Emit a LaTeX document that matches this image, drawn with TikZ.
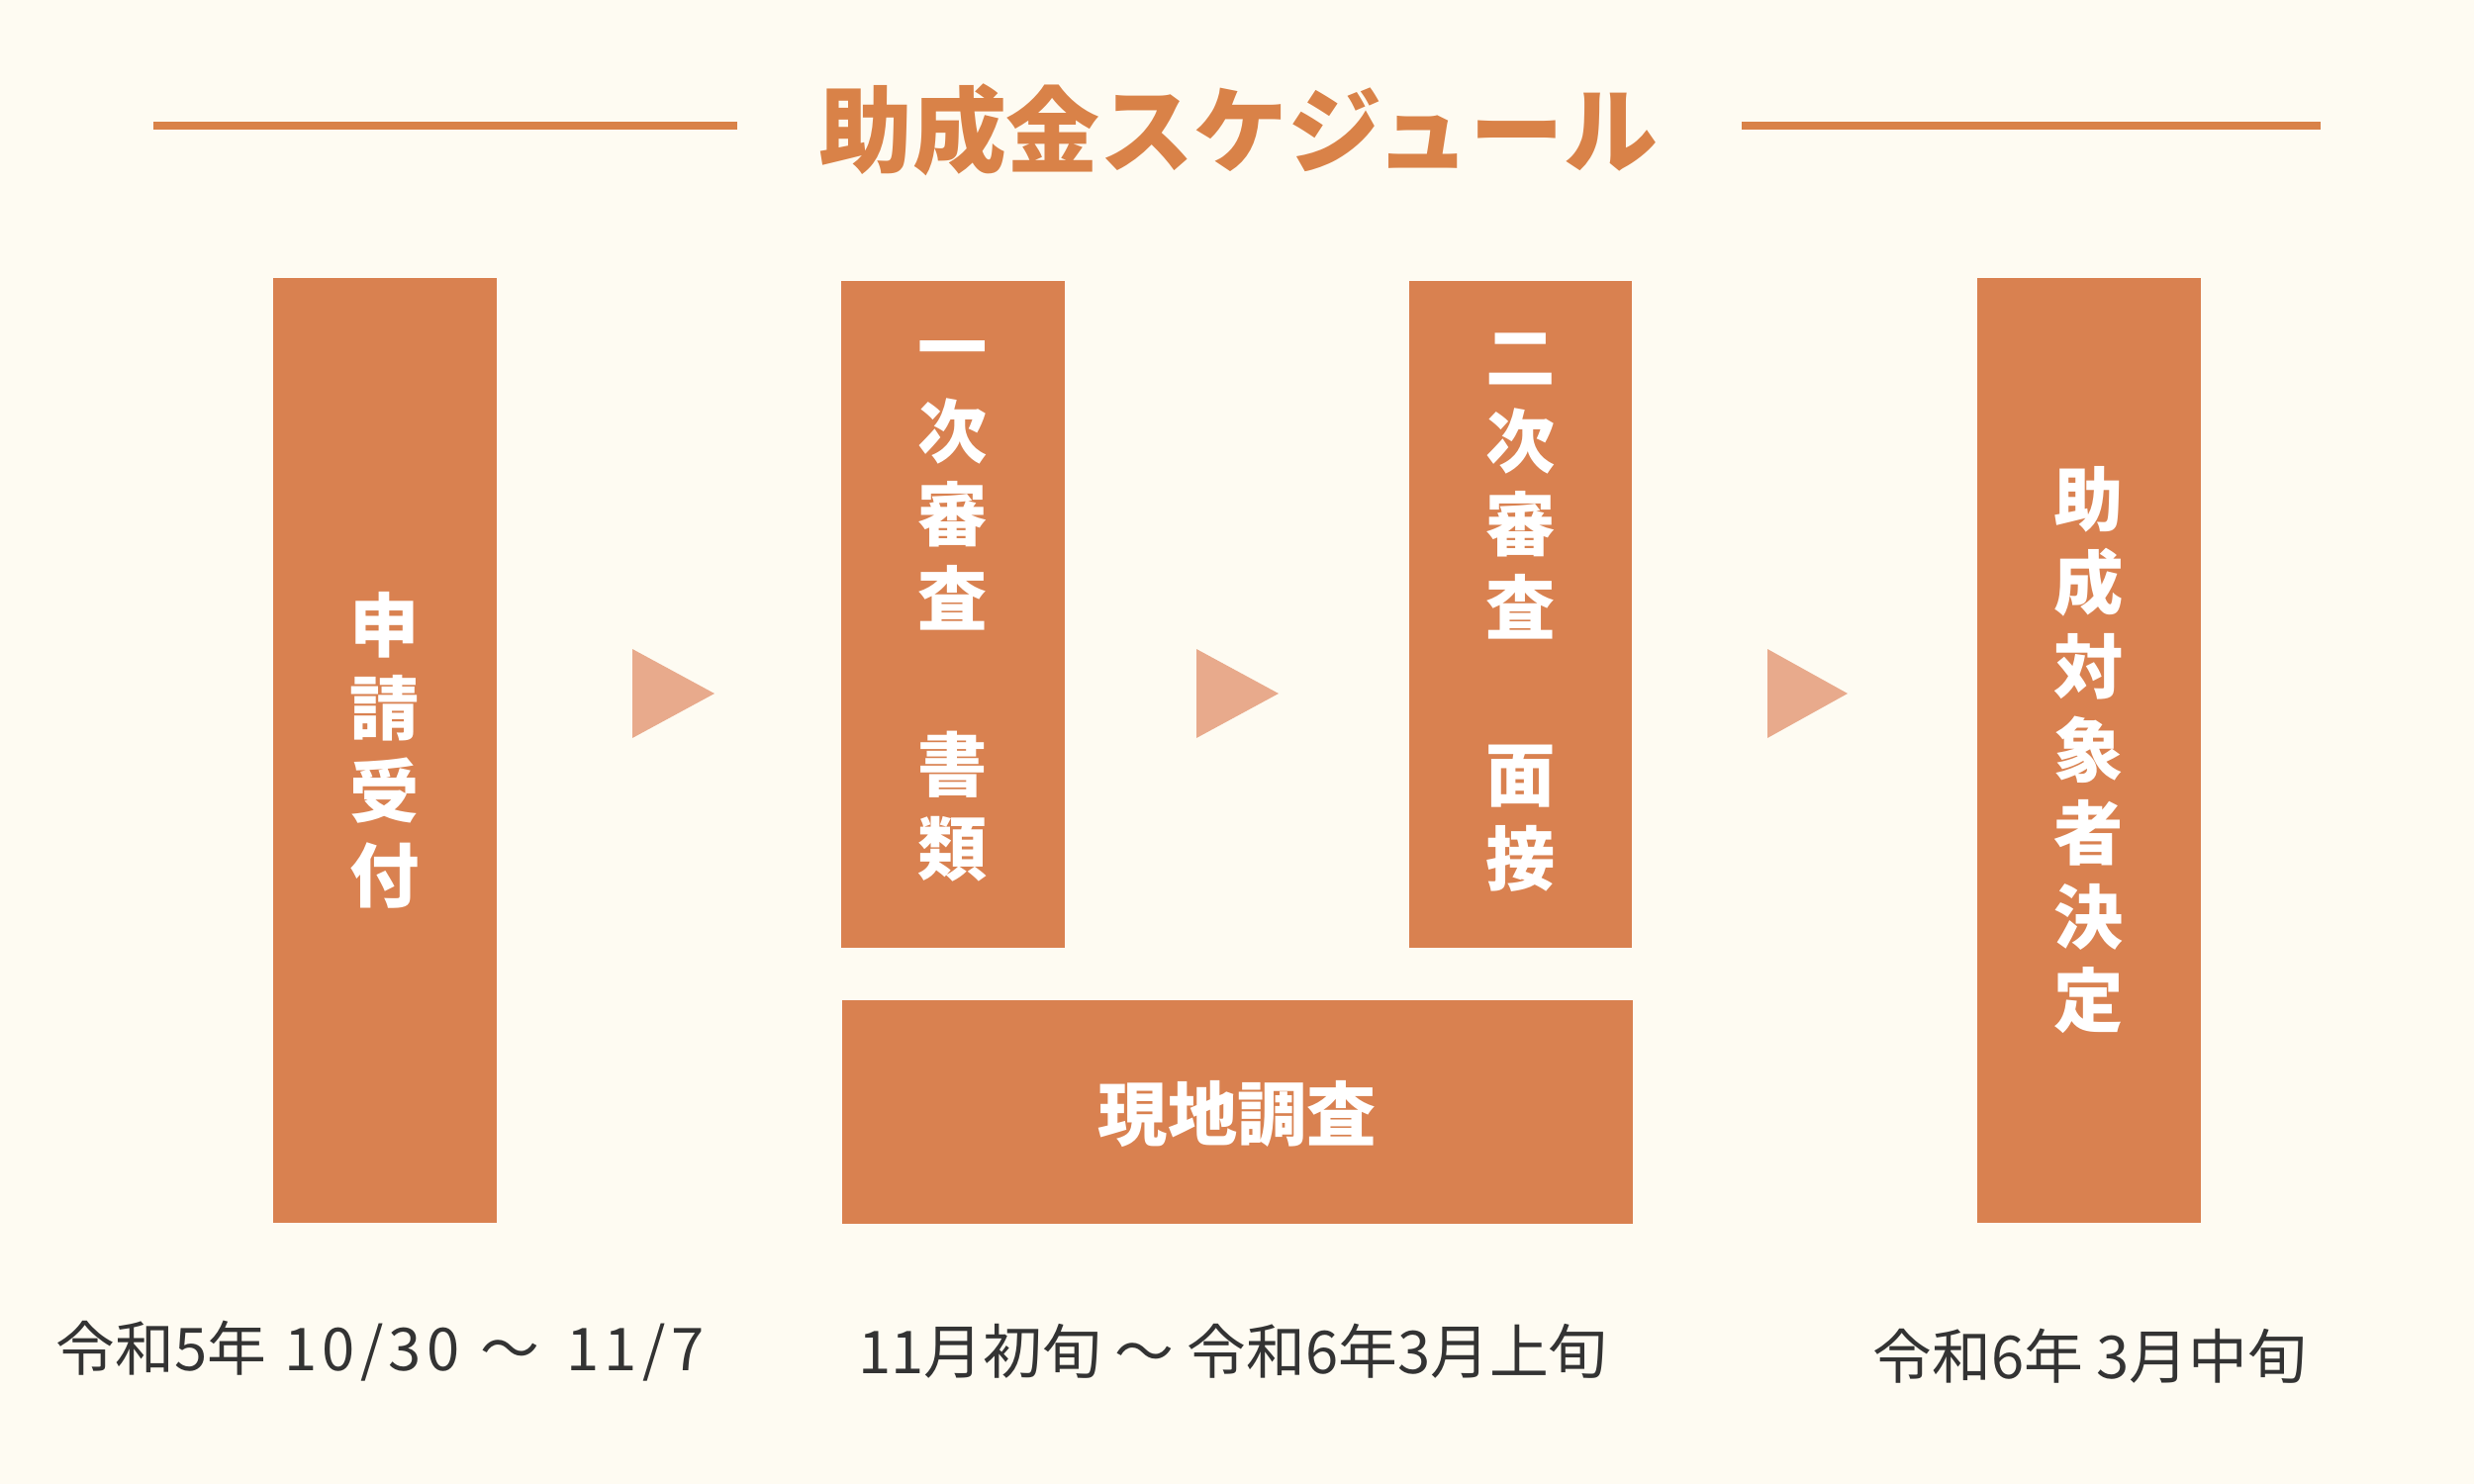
\documentclass[tikz,border=0pt]{standalone}
\usepackage{fontspec}
\setmainfont{Noto Sans CJK JP}
\newfontfamily\digf{Noto Sans CJK JP}[LetterSpace=9]
\definecolor{bgc}{RGB}{254,251,242}
\definecolor{boxc}{RGB}{217,129,80}
\definecolor{arrc}{RGB}{232,170,140}
\definecolor{titc}{RGB}{217,130,72}
\definecolor{txtc}{RGB}{51,51,51}
\tikzset{
  stepbox/.style={fill=boxc, draw=none, inner sep=0pt},
  vtext/.style={text=white, font=\fontsize{20}{24}\selectfont\bfseries, align=center, inner sep=0pt},
  htext/.style={text=white, font=\fontsize{20}{24}\selectfont\bfseries, inner sep=0pt},
  datetext/.style={text=txtc, font=\fontsize{17}{20}\selectfont, inner sep=0pt},
  tri/.style={fill=arrc, draw=none},
  rule/.style={draw=titc, line width=2.3pt}
}
\begin{document}
\begin{tikzpicture}[x=0.01cm, y=-0.01cm]
\fill[bgc] (0,0) rectangle (2500,1500);
\useasboundingbox (0,0) rectangle (2500,1500);
% title
\draw[rule] (155,127) -- (745,127);
\draw[rule] (1760,127) -- (2345,127);
\node[text=titc, font=\fontsize{27}{31}\selectfont\bfseries, inner sep=0pt] (title) at (1251,131) {助成金スケジュール};
% boxes
\node[stepbox, minimum width=2.26cm, minimum height=9.55cm] (b1) at (389,758.5) {};
\node[stepbox, minimum width=2.26cm, minimum height=6.74cm] (b2) at (963,621) {};
\node[stepbox, minimum width=2.25cm, minimum height=6.74cm] (b3) at (1536.5,621) {};
\node[stepbox, minimum width=2.26cm, minimum height=9.55cm] (b4) at (2111,758.5) {};
\node[stepbox, minimum width=7.99cm, minimum height=2.26cm] (b5) at (1250.5,1124) {};
% box texts
\node[vtext] (t1) at (389,758) {申\\請\\受\\付};
\node[vtext] (t2) at (963,618) {一\\次\\審\\査\\\mbox{}\\書\\類};
\node[vtext] (t3) at (1536.5,619) {二\\次\\審\\査\\\mbox{}\\面\\接};
\node[vtext] (t4) at (2111,758) {助\\成\\対\\象\\者\\決\\定};
\node[htext] (t5) at (1250.5,1126) {現地調査};
% arrows
\fill[tri] (639,656) -- (639,746) -- (722,701) -- cycle;
\fill[tri] (1209,656) -- (1209,746) -- (1292,701) -- cycle;
\fill[tri] (1786,656) -- (1786,746) -- (1867,701) -- cycle;
% dates
\node[datetext] (d1) at (384,1366) {令和5年\hspace{0.3em}{\digf 10/30}\hspace{0.35em}〜\hspace{0.45em}{\digf 11/7}};
\node[datetext] (d2) at (1246,1366) {11月初旬 〜 令和6年3月上旬};
\node[datetext] (d3) at (2112,1371) {令和6年 3月中旬};
\end{tikzpicture}
\end{document}
